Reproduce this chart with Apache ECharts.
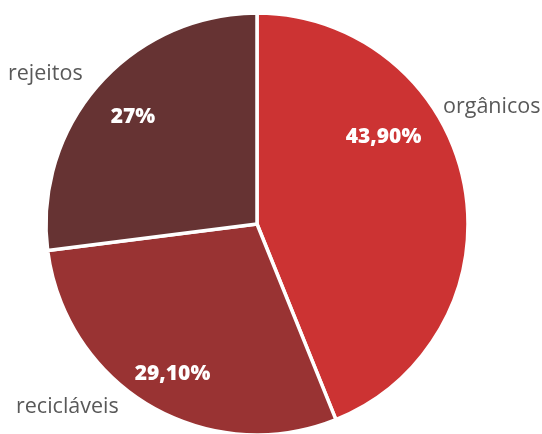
<!DOCTYPE html>
<html>
<head>
<meta charset="utf-8">
<script src="https://cdn.jsdelivr.net/npm/echarts@6/dist/echarts.min.js"></script>
<style>
  html, body { margin: 0; padding: 0; background: #fff; }
  #chart { width: 542px; height: 434px; }
</style>
</head>
<body>
<div id="chart"></div>
<script>
// Composição dos resíduos (%)
const categories = ['orgânicos', 'recicláveis', 'rejeitos'];
const shares = [43.9, 29.1, 27];
const shareLabels = ['43,90%', '29,10%', '27%'];
const sliceColors = ['#cc3333', '#993333', '#663333'];

// Label anchor points (px): percentage labels centred, category names left-aligned
const valueLabelPos = [[383.5, 137.5], [172.5, 374.5], [133, 117]];
const nameLabelPos = [[443, 107], [16, 407], [8, 74]];

const chart = echarts.init(document.getElementById('chart'), null, { renderer: 'canvas' });

chart.setOption({
  animation: false,
  series: [
    {
      type: 'pie',
      center: [257, 224],
      radius: 211,
      startAngle: 90,
      clockwise: true,
      silent: true,
      itemStyle: { borderColor: '#ffffff', borderWidth: 3.5 },
      label: {
        show: true,
        position: 'inside',
        color: '#ffffff',
        fontFamily: 'Open Sans',
        fontWeight: 800,
        fontSize: 21,
        formatter: p => shareLabels[p.dataIndex]
      },
      labelLine: { show: false },
      labelLayout: p => ({
        x: valueLabelPos[p.dataIndex][0],
        y: valueLabelPos[p.dataIndex][1],
        align: 'center',
        verticalAlign: 'middle'
      }),
      data: categories.map((c, i) => ({
        name: c,
        value: shares[i],
        itemStyle: { color: sliceColors[i] }
      }))
    }
  ],
  graphic: categories.map((c, i) => ({
    type: 'text',
    x: nameLabelPos[i][0],
    y: nameLabelPos[i][1],
    style: {
      text: c,
      fill: '#595959',
      font: '21.5px "Open Sans"',
      textAlign: 'left',
      textVerticalAlign: 'middle'
    }
  }))
});
</script>
</body>
</html>
